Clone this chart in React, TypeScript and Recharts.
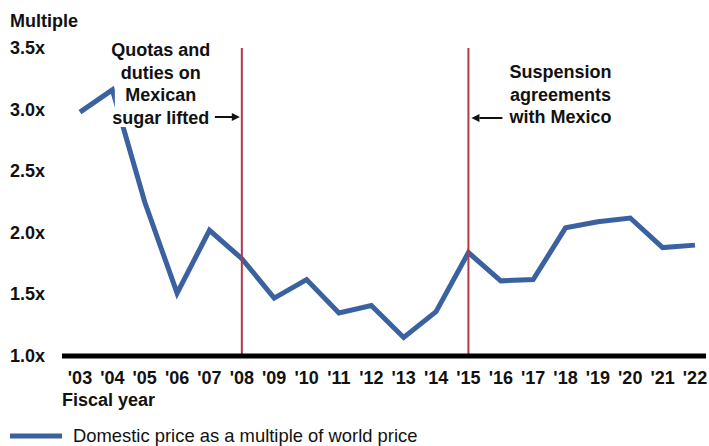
import { LineChart, Line, XAxis, YAxis, ReferenceLine, Legend } from 'recharts'

const years = ["'03", "'04", "'05", "'06", "'07", "'08", "'09", "'10", "'11", "'12", "'13", "'14", "'15", "'16", "'17", "'18", "'19", "'20", "'21", "'22"]
const multiples = [2.98, 3.16, 2.25, 1.51, 2.02, 1.79, 1.47, 1.62, 1.35, 1.41, 1.15, 1.36, 1.84, 1.61, 1.62, 2.04, 2.09, 2.12, 1.88, 1.9]
const yTicks = [1, 1.5, 2, 2.5, 3, 3.5]
const quotaYear = "'08"
const suspensionYear = "'15"
const quotaNote = ['Quotas and', 'duties on', 'Mexican', 'sugar lifted']
const suspensionNote = ['Suspension', 'agreements', 'with Mexico']
const seriesName = 'Domestic price as a multiple of world price'

const data = years.map((year, i) => ({ year, multiple: multiples[i] }))

const FONT = '"Liberation Sans", Arial, sans-serif'
const BLUE = '#3b62a0'
const RED = '#b13a48'

function YTick({ y, payload }: any) {
  return (
    <text x={10} y={y + 6} fontFamily={FONT} fontSize={18} fontWeight={700} fill="#111">
      {payload.value.toFixed(1)}x
    </text>
  )
}

function XTick({ x, y, payload }: any) {
  return (
    <text x={x} y={y + 20} textAnchor="middle" fontFamily={FONT} fontSize={18} fontWeight={700} fill="#111">
      {payload.value}
    </text>
  )
}

// note block sits on a white box so the series line breaks behind it
function QuotaLabel({ viewBox }: any) {
  const { x, y } = viewBox
  return (
    <g fontFamily={FONT} fontSize={18} fontWeight={700} fill="#111">
      <rect x={x - 127} y={y - 12} width={100} height={91} fill="#fff" />
      {quotaNote.map((t, i) => (
        <text key={t} x={x - 81} y={y + 8 + i * 22.5} textAnchor="middle">{t}</text>
      ))}
      <line x1={x - 27} y1={y + 69} x2={x - 9} y2={y + 69} stroke="#111" strokeWidth={2} />
      <polygon points={`${x - 2},${y + 69} ${x - 10},${y + 65} ${x - 10},${y + 73}`} fill="#111" />
    </g>
  )
}

function SuspensionLabel({ viewBox }: any) {
  const { x, y } = viewBox
  return (
    <g fontFamily={FONT} fontSize={18} fontWeight={700} fill="#111">
      {suspensionNote.map((t, i) => (
        <text key={t} x={x + 92} y={y + 30 + i * 22.5} textAnchor="middle">{t}</text>
      ))}
      <line x1={x + 34} y1={y + 70} x2={x + 11} y2={y + 70} stroke="#111" strokeWidth={2} />
      <polygon points={`${x + 3},${y + 70} ${x + 11},${y + 66} ${x + 11},${y + 74}`} fill="#111" />
    </g>
  )
}

function LegendRow() {
  return (
    <div
      style={{
        display: 'flex',
        alignItems: 'center',
        height: 18,
        lineHeight: '18px',
        fontFamily: FONT,
        fontSize: 18.4,
        color: '#111',
      }}
    >
      <svg width={63} height={10} style={{ marginLeft: 10 }}>
        <line x1={0} y1={5} x2={52} y2={5} stroke={BLUE} strokeWidth={5} />
      </svg>
      <span>{seriesName}</span>
    </div>
  )
}

export default function App() {
  return (
    <div style={{ position: 'absolute', left: 0, top: 0, background: '#fff' }}>
      <LineChart width={709} height={446} data={data} margin={{ top: 48, right: 3, bottom: 60, left: 0 }}>
        <YAxis
          type="number"
          domain={[1, 3.5]}
          ticks={yTicks}
          width={62}
          axisLine={false}
          tickLine={false}
          tick={<YTick />}
          label={({ viewBox }: any) => (
            <text x={10} y={viewBox.y - 21} fontFamily={FONT} fontSize={18} fontWeight={700} fill="#111">
              Multiple
            </text>
          )}
        />
        <XAxis
          dataKey="year"
          height={30}
          padding={{ left: 18, right: 11 }}
          axisLine={{ stroke: '#000', strokeWidth: 5 }}
          tickLine={false}
          interval={0}
          tick={<XTick />}
          label={({ viewBox }: any) => (
            <text x={viewBox.x} y={viewBox.y + 50} fontFamily={FONT} fontSize={18} fontWeight={700} fill="#111">
              Fiscal year
            </text>
          )}
        />
        <Line
          dataKey="multiple"
          name={seriesName}
          stroke={BLUE}
          strokeWidth={5}
          dot={false}
          type="linear"
          isAnimationActive={false}
        />
        <ReferenceLine x={quotaYear} stroke={RED} strokeWidth={2} label={<QuotaLabel />} />
        <ReferenceLine x={suspensionYear} stroke={RED} strokeWidth={2} label={<SuspensionLabel />} />
        <Legend
          verticalAlign="middle"
          align="center"
          content={() => <LegendRow />}
          wrapperStyle={{ left: 0, top: 427, width: 709, height: 18 }}
        />
      </LineChart>
    </div>
  )
}
